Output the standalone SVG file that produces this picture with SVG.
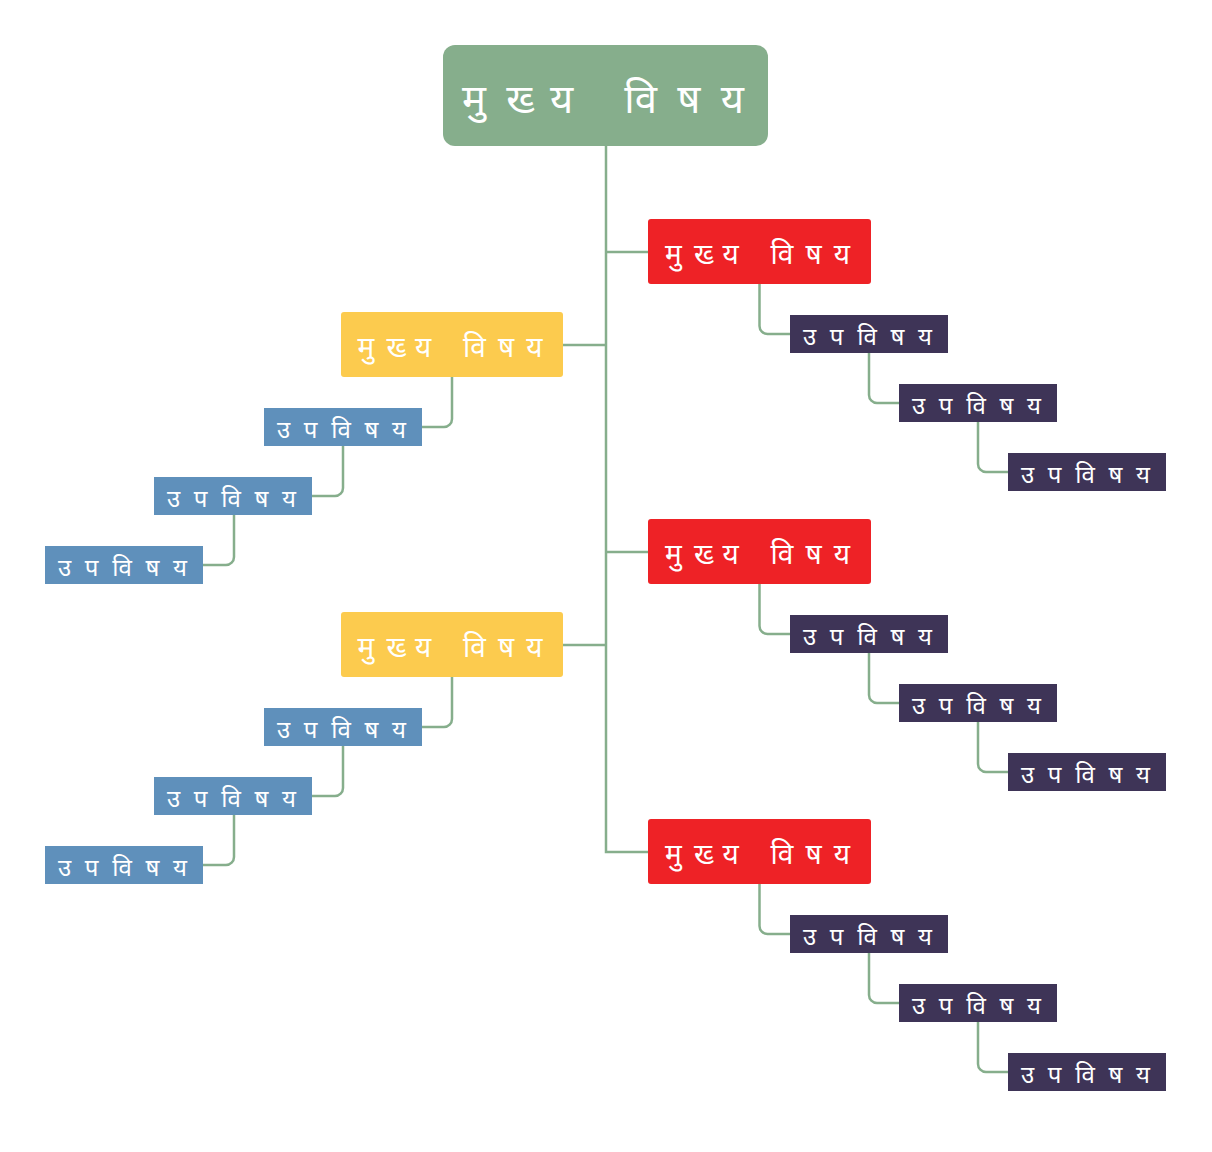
<svg xmlns="http://www.w3.org/2000/svg" width="1212" height="1152" viewBox="0 0 1212 1152">
<style>
.c{fill:none;stroke:#86ae8c;stroke-width:2.5}
.t{font-family:"Noto Sans","DejaVu Sans",sans-serif;fill:#fff;text-anchor:middle;dominant-baseline:central}
.root{fill:#86ae8c}
.red{fill:#ee2226}
.yel{fill:#fccb4e}
.pur{fill:#3e3457}
.blu{fill:#5f90bb}
.f1{font-size:40px}
.f2{font-size:28px}
.f3{font-size:24px}
</style>
<rect width="1212" height="1152" fill="#fff"/>
<g id="connectors">
<path class="c" d="M606 146V852H648"/>
<path class="c" d="M606 252H648M606 552H648M606 345H563M606 645H563"/>
<path class="c" d="M759.5 284V326a8 8 0 0 0 8 8H790M869 353V395a8 8 0 0 0 8 8H899M978 422V464a8 8 0 0 0 8 8H1008"/>
<path class="c" d="M759.5 584V626a8 8 0 0 0 8 8H790M869 653V695a8 8 0 0 0 8 8H899M978 722V764a8 8 0 0 0 8 8H1008"/>
<path class="c" d="M759.5 884V926a8 8 0 0 0 8 8H790M869 953V995a8 8 0 0 0 8 8H899M978 1022V1064a8 8 0 0 0 8 8H1008"/>
<path class="c" d="M452 377V419a8 8 0 0 1 -8 8H421M343 446V488a8 8 0 0 1 -8 8H312M234 515V557a8 8 0 0 1 -8 8H203"/>
<path class="c" d="M452 677V719a8 8 0 0 1 -8 8H421M343 746V788a8 8 0 0 1 -8 8H312M234 815V857a8 8 0 0 1 -8 8H203"/>
</g>
<g id="root"><rect class="root" x="443" y="45" width="325" height="101" rx="12"/><text class="t f1" x="603" y="97" textLength="282" lengthAdjust="spacing">मुख्य विषय</text></g>
<g id="m1"><rect class="red" x="648" y="219" width="223" height="65" rx="3"/><text class="t f2" x="757.5" y="253" textLength="185" lengthAdjust="spacing">मुख्य विषय</text></g>
<g id="m2"><rect class="red" x="648" y="519" width="223" height="65" rx="3"/><text class="t f2" x="757.5" y="553" textLength="185" lengthAdjust="spacing">मुख्य विषय</text></g>
<g id="m3"><rect class="red" x="648" y="819" width="223" height="65" rx="3"/><text class="t f2" x="757.5" y="853" textLength="185" lengthAdjust="spacing">मुख्य विषय</text></g>
<g id="y1"><rect class="yel" x="341" y="312" width="222" height="65" rx="3"/><text class="t f2" x="450" y="346" textLength="185" lengthAdjust="spacing">मुख्य विषय</text></g>
<g id="y2"><rect class="yel" x="341" y="612" width="222" height="65" rx="3"/><text class="t f2" x="450" y="646" textLength="185" lengthAdjust="spacing">मुख्य विषय</text></g>
<g id="p11"><rect class="pur" x="790" y="315" width="158" height="38"/><text class="t f3" x="867.5" y="335" textLength="129" lengthAdjust="spacing">उपविषय</text></g>
<g id="p12"><rect class="pur" x="899" y="384" width="158" height="38"/><text class="t f3" x="976.5" y="404" textLength="129" lengthAdjust="spacing">उपविषय</text></g>
<g id="p13"><rect class="pur" x="1008" y="453" width="158" height="38"/><text class="t f3" x="1085.5" y="473" textLength="129" lengthAdjust="spacing">उपविषय</text></g>
<g id="p21"><rect class="pur" x="790" y="615" width="158" height="38"/><text class="t f3" x="867.5" y="635" textLength="129" lengthAdjust="spacing">उपविषय</text></g>
<g id="p22"><rect class="pur" x="899" y="684" width="158" height="38"/><text class="t f3" x="976.5" y="704" textLength="129" lengthAdjust="spacing">उपविषय</text></g>
<g id="p23"><rect class="pur" x="1008" y="753" width="158" height="38"/><text class="t f3" x="1085.5" y="773" textLength="129" lengthAdjust="spacing">उपविषय</text></g>
<g id="p31"><rect class="pur" x="790" y="915" width="158" height="38"/><text class="t f3" x="867.5" y="935" textLength="129" lengthAdjust="spacing">उपविषय</text></g>
<g id="p32"><rect class="pur" x="899" y="984" width="158" height="38"/><text class="t f3" x="976.5" y="1004" textLength="129" lengthAdjust="spacing">उपविषय</text></g>
<g id="p33"><rect class="pur" x="1008" y="1053" width="158" height="38"/><text class="t f3" x="1085.5" y="1073" textLength="129" lengthAdjust="spacing">उपविषय</text></g>
<g id="b11"><rect class="blu" x="264" y="408" width="158" height="38"/><text class="t f3" x="341.5" y="428" textLength="129" lengthAdjust="spacing">उपविषय</text></g>
<g id="b12"><rect class="blu" x="154" y="477" width="158" height="38"/><text class="t f3" x="231.5" y="497" textLength="129" lengthAdjust="spacing">उपविषय</text></g>
<g id="b13"><rect class="blu" x="45" y="546" width="158" height="38"/><text class="t f3" x="122.5" y="566" textLength="129" lengthAdjust="spacing">उपविषय</text></g>
<g id="b21"><rect class="blu" x="264" y="708" width="158" height="38"/><text class="t f3" x="341.5" y="728" textLength="129" lengthAdjust="spacing">उपविषय</text></g>
<g id="b22"><rect class="blu" x="154" y="777" width="158" height="38"/><text class="t f3" x="231.5" y="797" textLength="129" lengthAdjust="spacing">उपविषय</text></g>
<g id="b23"><rect class="blu" x="45" y="846" width="158" height="38"/><text class="t f3" x="122.5" y="866" textLength="129" lengthAdjust="spacing">उपविषय</text></g>
</svg>
